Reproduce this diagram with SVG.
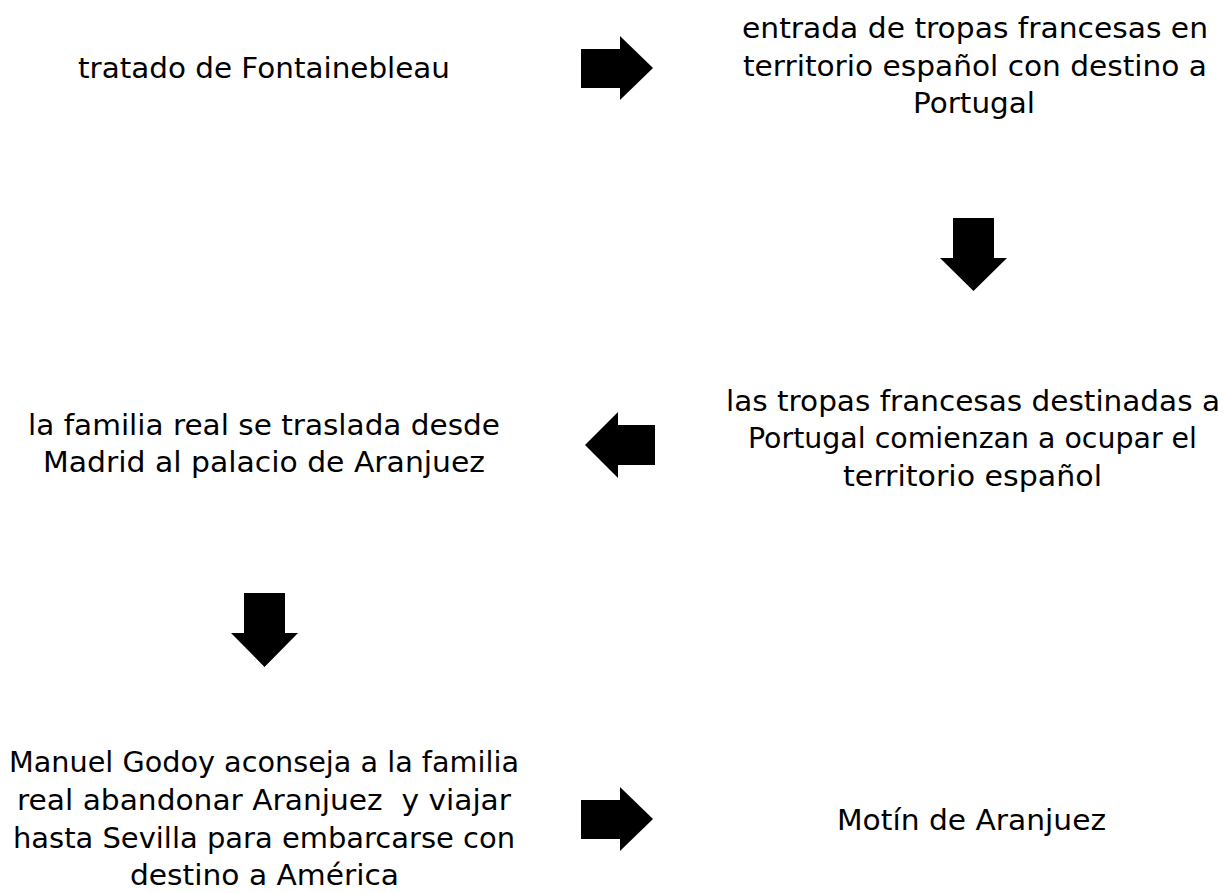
<svg xmlns="http://www.w3.org/2000/svg" width="1226" height="893" viewBox="0 0 1226 893">
<style>
text{font-family:"DejaVu Sans","Liberation Sans",sans-serif;font-size:28px;fill:#000;}
.l{text-anchor:start;}
.arrow{fill:#000;stroke:none;}
</style>
<rect width="1226" height="893" fill="#fff"/>
<g id="connectors">
<polygon class="arrow" points="581,49 620,49 620,36 653,68 620,100 620,88 581,88"/>
<polygon class="arrow" points="953,218 994,218 994,258 1007,258 973.5,291 940,258 953,258"/>
<polygon class="arrow" points="655,425 618,425 618,412 585,445 618,478 618,465 655,465"/>
<polygon class="arrow" points="244,593 285,593 285,633 298,633 264.5,667 231,633 244,633"/>
<polygon class="arrow" points="581,800 620,800 620,787 653,819 620,851 620,839 581,839"/>
</g>
<g id="n1">
<text class="l" x="78" y="78" textLength="372" lengthAdjust="spacingAndGlyphs">tratado de Fontainebleau</text>
</g>
<g id="n2">
<text class="l" x="742" y="38" textLength="466" lengthAdjust="spacingAndGlyphs">entrada de tropas francesas en</text>
<text class="l" x="743" y="76" textLength="464" lengthAdjust="spacingAndGlyphs">territorio español con destino a</text>
<text class="l" x="913" y="113" textLength="122" lengthAdjust="spacingAndGlyphs">Portugal</text>
</g>
<g id="n3">
<text class="l" x="726" y="411" textLength="494" lengthAdjust="spacingAndGlyphs">las tropas francesas destinadas a</text>
<text class="l" x="748" y="448" textLength="449" lengthAdjust="spacingAndGlyphs">Portugal comienzan a ocupar el</text>
<text class="l" x="843" y="485.5" textLength="259" lengthAdjust="spacingAndGlyphs">territorio español</text>
</g>
<g id="n4">
<text class="l" x="28" y="434.5" textLength="472" lengthAdjust="spacingAndGlyphs">la familia real se traslada desde</text>
<text class="l" x="43" y="471.5" textLength="442" lengthAdjust="spacingAndGlyphs">Madrid al palacio de Aranjuez</text>
</g>
<g id="n5">
<text class="l" x="9" y="772" textLength="510" lengthAdjust="spacingAndGlyphs">Manuel Godoy aconseja a la familia</text>
<text class="l" x="17" y="810" textLength="494" lengthAdjust="spacingAndGlyphs" xml:space="preserve">real abandonar Aranjuez  y viajar</text>
<text class="l" x="13" y="848" textLength="502" lengthAdjust="spacingAndGlyphs">hasta Sevilla para embarcarse con</text>
<text class="l" x="130" y="885" textLength="269" lengthAdjust="spacingAndGlyphs">destino a América</text>
</g>
<g id="n6">
<text class="l" x="837" y="830" textLength="269" lengthAdjust="spacingAndGlyphs">Motín de Aranjuez</text>
</g>
</svg>
